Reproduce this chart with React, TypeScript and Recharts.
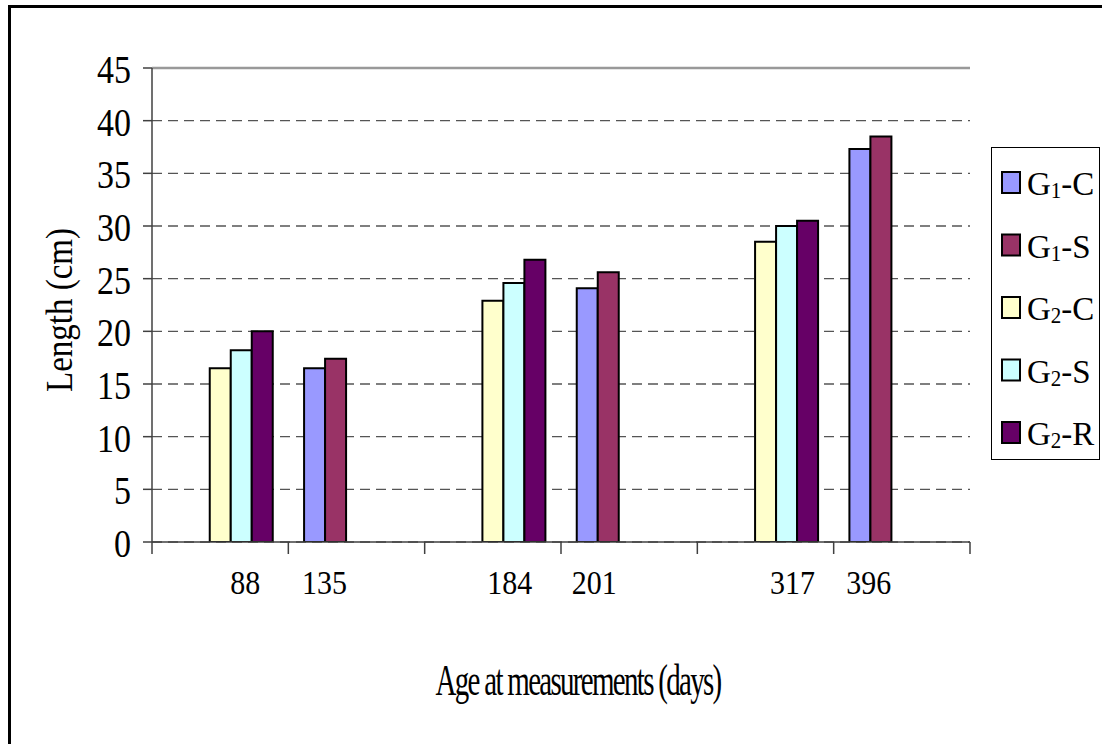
import React from 'react';
import { BarChart, Bar, XAxis, YAxis, CartesianGrid, ReferenceLine, Legend } from 'recharts';

// ---- data ----
const categories = ['88', '135', '184', '201', '317', '396'];
const g1c: (number | null)[] = [null, 16.5, null, 24.1, null, 37.3];
const g1s: (number | null)[] = [null, 17.4, null, 25.6, null, 38.5];
const g2c: (number | null)[] = [16.5, null, 22.9, null, 28.5, null];
const g2s: (number | null)[] = [18.2, null, 24.6, null, 30.0, null];
const g2r: (number | null)[] = [20.0, null, 26.8, null, 30.5, null];
const seriesNames = ['G1-C', 'G1-S', 'G2-C', 'G2-S', 'G2-R'];
const yTicks = [0, 5, 10, 15, 20, 25, 30, 35, 40, 45];

// ---- styles ----
const FONT = "'Liberation Serif', 'Times New Roman', serif";
const seriesColors = ['#9999FF', '#993366', '#FFFFCC', '#CCFFFF', '#660066'];
const seriesKeys = ['g1c', 'g1s', 'g2c', 'g2s', 'g2r'];
const labelShift = [25, -32, 17, -35, 27, -33];
const AXIS = '#404040';

const data = categories.map((day, i) => ({
  day,
  g1c: g1c[i],
  g1s: g1s[i],
  g2c: g2c[i],
  g2s: g2s[i],
  g2r: g2r[i],
}));

const YTick = (p: any) => (
  <text
    transform={`translate(${p.x},${p.y + 15}) scale(1,1.2)`}
    textAnchor="end"
    fontSize={34}
    fontFamily={FONT}
    fill="#000"
  >
    {p.payload.value}
  </text>
);

const XTick = (p: any) => {
  const s = labelShift[p.index] ?? 0;
  const half =
    p.payload && typeof p.payload.offset === 'number' && p.payload.offset > 0
      ? p.payload.offset
      : p.width / (p.visibleTicksCount || categories.length) / 2;
  const last = p.index === (p.visibleTicksCount || categories.length) - 1;
  return (
    <g>
      <line x1={p.x - half} x2={p.x - half} y1={p.y} y2={p.y + 12} stroke={AXIS} strokeWidth={1.5} />
      {last && <line x1={p.x + half} x2={p.x + half} y1={p.y} y2={p.y + 12} stroke={AXIS} strokeWidth={1.5} />}
      <text
        transform={`translate(${p.x + s},${p.y + 52}) scale(1,1.12)`}
        textAnchor="middle"
        fontSize={30}
        fontFamily={FONT}
        fill="#000"
      >
        {p.payload.value}
      </text>
    </g>
  );
};

const YTitle = (props: any) => {
  const vb = props.viewBox || { x: 52, y: 68, width: 100, height: 474 };
  const cx = vb.x + 20;
  const cy = vb.y + vb.height / 2 + 5;
  return (
    <text
      transform={`translate(${cx},${cy}) rotate(-90) scale(1,1.15)`}
      textAnchor="middle"
      fontSize={33}
      fontFamily={FONT}
      fill="#000"
    >
      Length (cm)
    </text>
  );
};

const XTitle = (props: any) => {
  const vb = props.viewBox || { x: 152, y: 542, width: 818, height: 100 };
  const cx = vb.x + vb.width / 2 + 17;
  const cy = vb.y + 153;
  return (
    <text
      transform={`translate(${cx},${cy}) scale(1,1.55)`}
      textAnchor="middle"
      fontSize={29}
      letterSpacing={-1.7}
      fontFamily={FONT}
      fill="#000"
    >
      Age at measurements (days)
    </text>
  );
};

const LegendBox = (props: any) => {
  const payload = [...(props.payload || [])].sort(
    (a: any, b: any) => seriesNames.indexOf(String(a.value)) - seriesNames.indexOf(String(b.value))
  );
  return (
    <svg width={110} height={314} style={{ display: 'block' }}>
      <rect x={0.5} y={0.5} width={108} height={312} fill="#fff" stroke="#000" strokeWidth={1} />
      {payload.map((item: any, i: number) => {
        const cy = 35.5 + i * 62.5;
        const name = String(item.value);
        return (
          <g key={name}>
            <rect x={11} y={cy - 10.5} width={18} height={21} fill={item.color} stroke="#000" strokeWidth={2} />
            <text
              transform={`translate(36,${cy + 12.5}) scale(1,1.05)`}
              fontSize={33}
              fontFamily={FONT}
              fill="#000"
            >
              {name[0]}
              <tspan fontSize={21} dy={3}>{name[1]}</tspan>
              <tspan dy={-3}>{name.slice(2)}</tspan>
            </text>
          </g>
        );
      })}
    </svg>
  );
};

export default function App() {
  return (
    <div style={{ position: 'absolute', left: 0, top: 0, width: 1102, height: 744, background: '#fff' }}>
      <div
        style={{
          position: 'absolute',
          left: 8,
          top: 5,
          width: 1094,
          height: 739,
          borderTop: '3px solid #000',
          borderLeft: '3px solid #000',
          boxSizing: 'border-box',
        }}
      />
      <div style={{ position: 'absolute', left: 0, top: 0 }}>
        <BarChart
          width={1102}
          height={744}
          data={data}
          margin={{ top: 68, right: 132, bottom: 102, left: 52 }}
          barCategoryGap="11.55%"
          barGap={0}
          style={{ fontFamily: FONT }}
        >
          <CartesianGrid
            xAxisId="cat"
            vertical={false}
            stroke="#555"
            strokeWidth={1.3}
            strokeDasharray="10 6"
          />
          <XAxis
            xAxisId="cat"
            dataKey="day"
            type="category"
            height={100}
            interval={0}
            tickLine={false}
            axisLine={{ stroke: AXIS, strokeWidth: 1.5 }}
            tickSize={0}
            tickMargin={0}
            tick={XTick}
            label={XTitle}
          />
          <XAxis
            xAxisId="num"
            type="number"
            domain={[0, 6]}
            allowDataOverflow
            hide
          />
          <YAxis
            domain={[0, 45]}
            ticks={yTicks}
            interval={0}
            allowDataOverflow
            width={100}
            tickSize={9}
            tickMargin={12}
            axisLine={{ stroke: AXIS, strokeWidth: 1.5 }}
            tickLine={{ stroke: AXIS, strokeWidth: 1.5 }}
            tick={YTick}
            label={YTitle}
          />
          <ReferenceLine xAxisId="cat" y={45} stroke="#999" strokeWidth={2.5} />
          <ReferenceLine xAxisId="num" x={6} stroke="#999" strokeWidth={2.5} />
          {seriesKeys.map((k, i) => (
            <Bar
              key={k}
              xAxisId="cat"
              dataKey={k}
              name={seriesNames[i]}
              fill={seriesColors[i]}
              stroke="#000"
              strokeWidth={2}
              isAnimationActive={false}
            />
          ))}
          <Legend
            layout="vertical"
            align="center"
            verticalAlign="middle"
            wrapperStyle={{ position: 'absolute', left: 991, top: 147, width: 110, height: 314, margin: 0, padding: 0 }}
            content={LegendBox}
          />
        </BarChart>
      </div>
    </div>
  );
}
